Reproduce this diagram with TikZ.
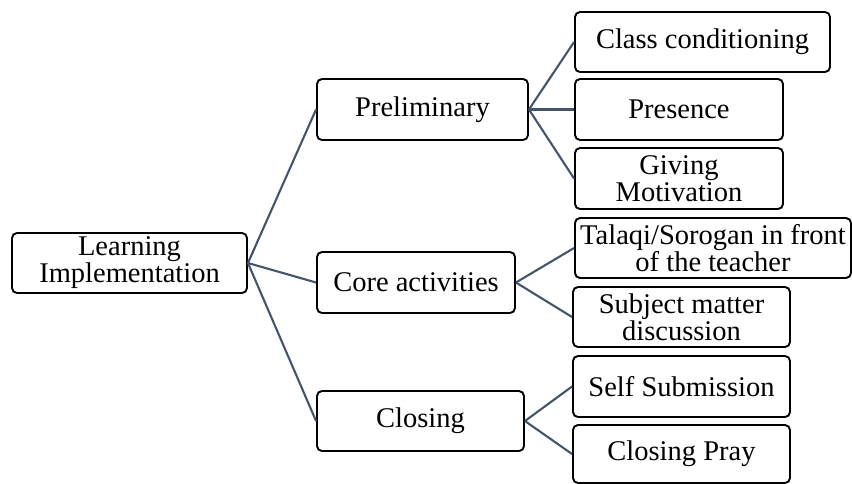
\documentclass[tikz,border=0pt]{standalone}
\usepackage{fontspec}
\setmainfont{Liberation Serif}
\usepackage{xcolor}
\usepackage{tikz}
\usetikzlibrary{positioning}

\definecolor{linkgray}{HTML}{44546A}

\begin{document}
\begin{tikzpicture}[x=1pt,y=-1pt,
  box node/.style={rectangle,draw,rounded corners=5pt,line width=1.9pt,inner sep=0pt,
    align=center,font=\fontsize{28.5}{27}\selectfont},
  link/.style={draw=linkgray,line width=2.1pt}]

  \useasboundingbox (0,0) rectangle (852,483);

  % root
  \node[box node,minimum width=235pt,minimum height=60pt] (learn) at (129.5,263) {Learning\\Implementation};

  % second level
  \node[box node,minimum width=211pt,minimum height=61pt] (prelim) at (422.5,109.5) {Preliminary};
  \node[box node,minimum width=198pt,minimum height=61pt] (core) at (416,282.5) {Core activities};
  \node[box node,minimum width=207pt,minimum height=60pt] (closing) at (420.5,421) {Closing};

  % third level
  \node[box node,minimum width=255pt,minimum height=60pt] (classcond) at (702.5,42) {Class conditioning};
  \node[box node,minimum width=208pt,minimum height=61pt] (presence) at (679,109.5) {Presence};
  \node[box node,minimum width=208pt,minimum height=61pt] (motiv) at (679,178.5) {Giving\\Motivation};
  \node[box node,minimum width=276pt,minimum height=60pt] (talaqi) at (713,248) {Talaqi/Sorogan in front\\of the teacher};
  \node[box node,minimum width=217pt,minimum height=60pt] (subject) at (681.5,317) {Subject matter\\discussion};
  \node[box node,minimum width=217pt,minimum height=61pt] (selfsub) at (681.5,386.5) {Self Submission};
  \node[box node,minimum width=217pt,minimum height=58pt] (pray) at (681.5,454) {Closing Pray};

  \path[link]
    (learn.east) edge (prelim.west)
    (learn.east) edge (core.west)
    (learn.east) edge (closing.west)
    (prelim.east) edge (classcond.west)
    (prelim.east) edge (presence.west)
    (prelim.east) edge (motiv.west)
    (core.east) edge (talaqi.west)
    (core.east) edge (subject.west)
    (closing.east) edge (selfsub.west)
    (closing.east) edge (pray.west);
\end{tikzpicture}
\end{document}
